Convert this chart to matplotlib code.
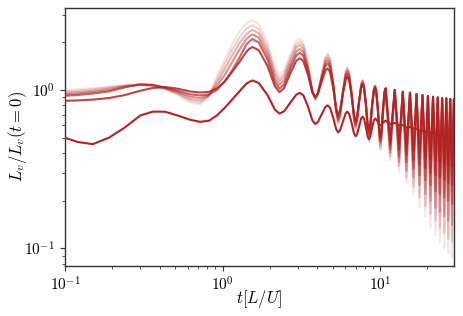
import numpy as np
import matplotlib
matplotlib.use("Agg")
import matplotlib.pyplot as plt

# time grid: resolved up to t~11, then only the extrema of the oscillation
t_early = [0.1, 0.12, 0.15, 0.19, 0.24, 0.3, 0.36, 0.43, 0.52, 0.62, 0.72, 0.82, 0.92,
           1.03, 1.15, 1.28, 1.42, 1.49, 1.55,
           1.70, 1.93, 2.15, 2.3,
           2.46, 2.70, 2.94, 3.1,
           3.26, 3.49, 3.72, 3.88,
           4.03, 4.27, 4.50, 4.65,
           4.81, 5.04, 5.27, 5.43,
           5.58, 5.82, 6.05, 6.2,
           6.36, 6.6, 6.84, 7.0,
           7.15, 7.38, 7.6, 7.75,
           7.9, 8.13, 8.35, 8.5,
           8.66, 8.9, 9.14, 9.3,
           9.45, 9.68, 9.9, 10.05,
           10.21, 10.45, 10.69, 10.85]
t_late_troughs = [11.6, 13.2, 14.7, 16.3, 17.8, 19.4, 20.9, 22.5, 24.0, 25.6, 27.1, 28.7]
t_late_peaks = [12.4, 13.95, 15.5, 17.05, 18.6, 20.15, 21.7, 23.25, 24.8, 26.35, 27.9, 29.45]
late_peaks = [1.0, 0.976, 0.962, 0.944, 0.93, 0.916, 0.907, 0.899, 0.89, 0.886, 0.877, 0.874]
t_end = 30.2
end_val = [0.49, 0.6, 0.55, 0.5, 0.45, 0.4, 0.35]

c0_early = [0.50, 0.47, 0.455, 0.50, 0.58, 0.69, 0.73, 0.73, 0.69, 0.65, 0.63, 0.64, 0.69,
            0.77, 0.87, 0.98, 1.10, 1.13, 1.15,
            1.108, 0.93, 0.752, 0.71,
            0.734, 0.835, 0.936, 0.96,
            0.927, 0.785, 0.643, 0.61,
            0.628, 0.705, 0.782, 0.80,
            0.775, 0.67, 0.565, 0.54,
            0.558, 0.635, 0.712, 0.73,
            0.709, 0.62, 0.531, 0.51,
            0.526, 0.595, 0.664, 0.68,
            0.662, 0.585, 0.508, 0.49,
            0.506, 0.575, 0.644, 0.66,
            0.654, 0.63, 0.606, 0.60,
            0.604, 0.62, 0.636, 0.64]
c1_early = [0.855, 0.86, 0.87, 0.89, 0.93, 0.99, 1.03, 1.045, 1.02, 0.98, 0.965, 0.975, 1.02,
            1.13, 1.30, 1.50, 1.75, 1.83, 1.87,
            1.784, 1.42, 1.056, 0.97,
            1.029, 1.28, 1.531, 1.59,
            1.524, 1.245, 0.966, 0.90,
            0.945, 1.135, 1.325, 1.37,
            1.306, 1.035, 0.764, 0.70,
            0.748, 0.955, 1.162, 1.21,
            1.156, 0.925, 0.694, 0.64,
            0.682, 0.86, 1.038, 1.08,
            1.031, 0.82, 0.609, 0.56,
            0.606, 0.80, 0.994, 1.04,
            0.99, 0.775, 0.56, 0.51,
            0.559, 0.768, 0.976, 1.025]
c2_early = [0.92, 0.93, 0.95, 0.98, 1.04, 1.09, 1.08, 1.04, 0.99, 0.94, 0.925, 0.94, 1.00,
            1.13, 1.33, 1.60, 1.95, 2.04, 2.10,
            1.997, 1.56, 1.123, 1.02,
            1.087, 1.37, 1.653, 1.72,
            1.642, 1.31, 0.978, 0.90,
            0.954, 1.185, 1.416, 1.47,
            1.394, 1.07, 0.746, 0.67,
            0.726, 0.965, 1.204, 1.26,
            1.199, 0.94, 0.681, 0.62,
            0.666, 0.86, 1.054, 1.10,
            1.047, 0.82, 0.593, 0.54,
            0.588, 0.793, 0.997, 1.045,
            0.992, 0.768, 0.543, 0.49,
            0.541, 0.758, 0.974, 1.025]
c3_early = [0.94, 0.95, 0.97, 1.00, 1.05, 1.08, 1.07, 1.03, 0.97, 0.91, 0.89, 0.93, 1.06,
            1.24, 1.50, 1.80, 2.10, 2.19, 2.25,
            2.139, 1.665, 1.191, 1.08,
            1.15, 1.45, 1.75, 1.82,
            1.732, 1.355, 0.978, 0.89,
            0.952, 1.215, 1.478, 1.54,
            1.455, 1.095, 0.735, 0.65,
            0.712, 0.975, 1.238, 1.30,
            1.234, 0.95, 0.667, 0.60,
            0.649, 0.86, 1.071, 1.12,
            1.063, 0.82, 0.577, 0.52,
            0.57, 0.785, 1.0, 1.05,
            0.995, 0.76, 0.525, 0.47,
            0.523, 0.748, 0.972, 1.025]
c4_early = [0.96, 0.97, 0.99, 1.02, 1.06, 1.08, 1.07, 1.03, 0.96, 0.88, 0.86, 0.92, 1.11,
            1.35, 1.65, 1.98, 2.25, 2.34, 2.40,
            2.28, 1.77, 1.26, 1.14,
            1.215, 1.535, 1.855, 1.93,
            1.83, 1.405, 0.98, 0.88,
            0.948, 1.24, 1.532, 1.60,
            1.508, 1.115, 0.722, 0.63,
            0.697, 0.985, 1.273, 1.34,
            1.268, 0.96, 0.652, 0.58,
            0.633, 0.86, 1.087, 1.14,
            1.079, 0.82, 0.561, 0.50,
            0.553, 0.78, 1.007, 1.06,
            1.002, 0.755, 0.508, 0.45,
            0.505, 0.738, 0.970, 1.025]
c5_early = [0.98, 0.99, 1.01, 1.04, 1.07, 1.08, 1.07, 1.02, 0.94, 0.86, 0.83, 0.92, 1.16,
            1.45, 1.80, 2.15, 2.45, 2.52, 2.56,
            2.43, 1.875, 1.32, 1.19,
            1.27, 1.61, 1.95, 2.03,
            1.92, 1.45, 0.98, 0.87,
            0.945, 1.265, 1.585, 1.66,
            1.561, 1.14, 0.719, 0.62,
            0.691, 0.995, 1.299, 1.37,
            1.294, 0.97, 0.646, 0.57,
            0.625, 0.86, 1.095, 1.15,
            1.086, 0.815, 0.544, 0.48,
            0.536, 0.773, 1.009, 1.065,
            1.005, 0.748, 0.49, 0.43,
            0.487, 0.728, 0.968, 1.025]
c6_early = [1.00, 1.01, 1.03, 1.05, 1.07, 1.08, 1.07, 1.02, 0.93, 0.84, 0.81, 0.92, 1.22,
            1.55, 1.95, 2.35, 2.65, 2.72, 2.76,
            2.617, 2.005, 1.393, 1.25,
            1.334, 1.69, 2.046, 2.13,
            2.009, 1.495, 0.981, 0.86,
            0.941, 1.285, 1.629, 1.71,
            1.605, 1.155, 0.705, 0.60,
            0.676, 1.0, 1.324, 1.40,
            1.32, 0.98, 0.64, 0.56,
            0.617, 0.86, 1.103, 1.16,
            1.094, 0.815, 0.536, 0.47,
            0.527, 0.77, 1.013, 1.07,
            1.008, 0.745, 0.482, 0.42,
            0.477, 0.723, 0.968, 1.025]

c0_late_troughs = [0.61, 0.60, 0.58, 0.57, 0.555, 0.545, 0.535, 0.525, 0.515, 0.51, 0.50, 0.495]
c0_late_peaks = [0.62, 0.60, 0.585, 0.57, 0.555, 0.545, 0.535, 0.525, 0.515, 0.51, 0.50, 0.495]
c1_late_troughs = [0.48, 0.46, 0.44, 0.42, 0.40, 0.38, 0.37, 0.36, 0.35, 0.34, 0.335, 0.33]
c2_late_troughs = [0.45, 0.42, 0.39, 0.36, 0.34, 0.32, 0.30, 0.29, 0.28, 0.27, 0.26, 0.25]
c3_late_troughs = [0.42, 0.38, 0.35, 0.32, 0.29, 0.27, 0.25, 0.23, 0.22, 0.21, 0.20, 0.19]
c4_late_troughs = [0.40, 0.35, 0.31, 0.28, 0.25, 0.22, 0.20, 0.18, 0.17, 0.16, 0.15, 0.14]
c5_late_troughs = [0.38, 0.33, 0.28, 0.245, 0.21, 0.185, 0.165, 0.15, 0.135, 0.125, 0.115, 0.11]
c6_late_troughs = [0.36, 0.305, 0.258, 0.217, 0.183, 0.158, 0.137, 0.121, 0.110, 0.100, 0.093, 0.088]

early = [c0_early, c1_early, c2_early, c3_early, c4_early, c5_early, c6_early]
troughs = [c0_late_troughs, c1_late_troughs, c2_late_troughs, c3_late_troughs,
           c4_late_troughs, c5_late_troughs, c6_late_troughs]
peaks = [c0_late_peaks] + [late_peaks] * 6
alphas = [1.0, 0.85, 0.7, 0.5, 0.35, 0.22, 0.12]

plt.rcParams["font.family"] = "cmr10"
plt.rcParams["mathtext.fontset"] = "cm"
plt.rcParams["axes.formatter.use_mathtext"] = True

fig = plt.figure(figsize=(4.63, 3.16), dpi=100)
ax = fig.add_axes([0.1404, 0.1582, 0.8402, 0.8165])

for i in range(len(early)):
    t_late = []
    y_late = []
    for a, b, c, d in zip(t_late_troughs, troughs[i], t_late_peaks, peaks[i]):
        t_late += [a, c]
        y_late += [b, d]
    t = np.array(t_early + t_late + [t_end])
    y = np.array(early[i] + y_late + [end_val[i]])
    ax.plot(t, y, color="firebrick", alpha=alphas[i], lw=1.5, zorder=10 - i)

ax.set_xscale("log")
ax.set_yscale("log")
ax.set_xlim(0.1, 29.5)
ax.set_ylim(0.0773, 3.3)
ax.set_xlabel(r"$t[L/U]$", fontsize=12, labelpad=-4)
ax.set_ylabel(r"$L_v/L_v(t=0)$", fontsize=12, labelpad=-3)
ax.tick_params(which="both", labelsize=11, color="#333333", direction="out")
ax.tick_params(which="major", length=3.5, width=0.8)
ax.tick_params(which="minor", length=2, width=0.6)
for s in ax.spines.values():
    s.set_linewidth(1.0)
    s.set_color("#333333")

fig.savefig("out.png", dpi=100)
